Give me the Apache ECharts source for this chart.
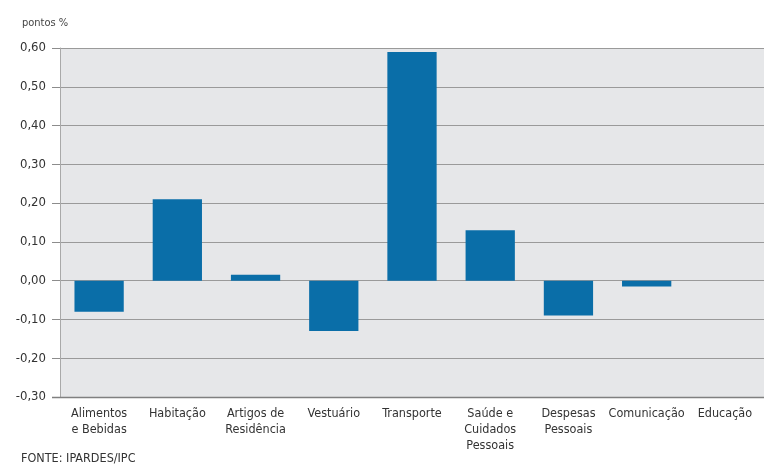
<!DOCTYPE html>
<html>
<head>
<meta charset="utf-8">
<script src="https://cdn.jsdelivr.net/npm/echarts@6/dist/echarts.min.js"></script>
<style>
  html, body { margin: 0; padding: 0; background: #ffffff; }
  #chart { width: 764px; height: 472px; }
</style>
</head>
<body>
<div id="chart"></div>
<script>
// Contribuição por grupo (pontos percentuais)
const categories = [
  'Alimentos\ne Bebidas',
  'Habitação',
  'Artigos de\nResidência',
  'Vestuário',
  'Transporte',
  'Saúde e\nCuidados\nPessoais',
  'Despesas\nPessoais',
  'Comunicação',
  'Educação'
];
const values = [-0.08, 0.21, 0.015, -0.13, 0.59, 0.13, -0.09, -0.015, 0.0];

const yMin = -0.30;
const yMax = 0.60;
const yStep = 0.10;

const FONT = '"DejaVu Sans Condensed", "Liberation Sans", Arial, sans-serif';
const chart = echarts.init(document.getElementById('chart'), null, { renderer: 'canvas' });

chart.setOption({
  animation: false,
  backgroundColor: '#ffffff',
  textStyle: { fontFamily: FONT },
  grid: {
    left: 60, right: 0, top: 48, bottom: 75,
    show: true, backgroundColor: '#e6e7e9', borderWidth: 0
  },
  graphic: [
    {
      type: 'text', left: 22, top: 18,
      style: { text: 'pontos %', fontFamily: FONT, fontSize: 11, fill: '#444' }
    },
    {
      type: 'text', left: 21, top: 452,
      style: { text: 'FONTE: IPARDES/IPC', fontFamily: FONT, fontSize: 12.5, fill: '#333' }
    },
    {
      // bottom baseline of the plot area, darker than the grid lines
      type: 'line', z: 5,
      shape: { x1: 52, y1: 397.5, x2: 764, y2: 397.5 },
      style: { stroke: '#808080', lineWidth: 1.5 }
    }
  ],
  xAxis: {
    type: 'category',
    data: categories,
    position: 'bottom',
    axisLine: { show: false },
    axisTick: { show: false },
    axisLabel: {
      interval: 0, color: '#333', fontFamily: FONT, fontSize: 12.5,
      lineHeight: 16, margin: 9, align: 'center'
    }
  },
  yAxis: {
    type: 'value',
    min: yMin, max: yMax, interval: yStep,
    axisLine: { show: true, lineStyle: { color: '#a9a9a9', width: 1 } },
    axisTick: { show: true, length: 8, lineStyle: { color: '#8c8c8c', width: 1 } },
    splitLine: { show: true, lineStyle: { color: '#9a9a9a', width: 1 } },
    axisLabel: {
      color: '#333', fontFamily: FONT, fontSize: 13, margin: 14,
      formatter: v => v.toFixed(2).replace('.', ',')
    }
  },
  series: [{
    type: 'bar',
    data: values,
    barCategoryGap: '37%',
    itemStyle: { color: '#0a6ea8' },
    silent: true
  }]
});
</script>
</body>
</html>
